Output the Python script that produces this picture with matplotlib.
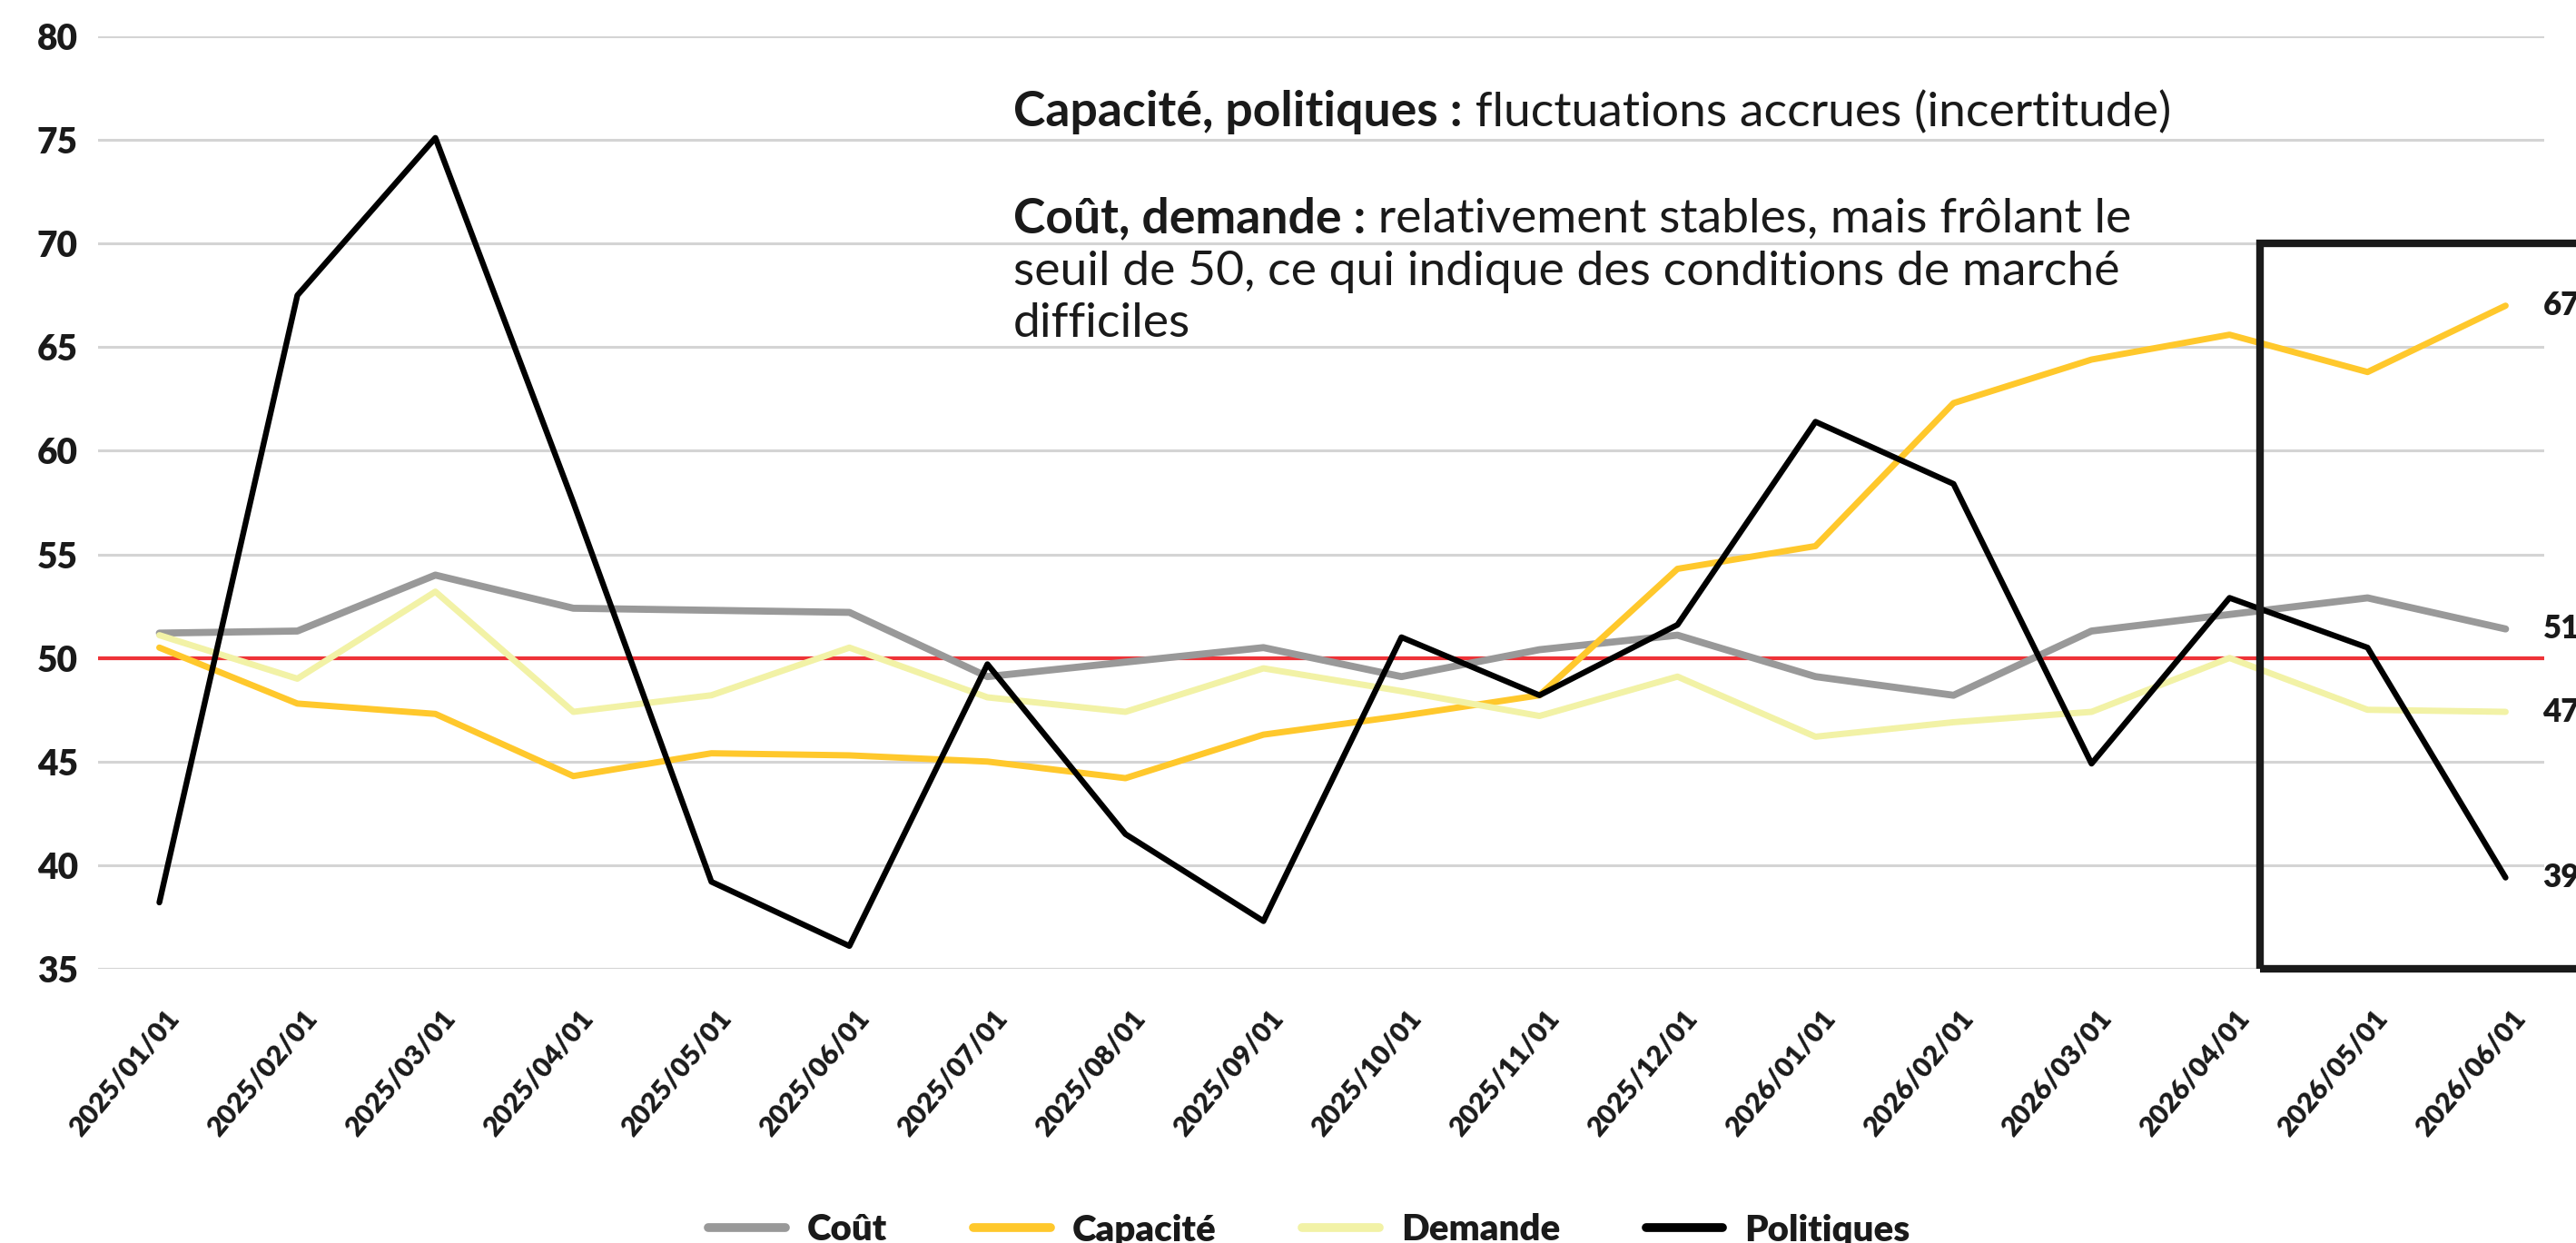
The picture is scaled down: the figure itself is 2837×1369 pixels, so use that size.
import matplotlib
matplotlib.use("Agg")
import matplotlib.pyplot as plt
import matplotlib.transforms as mtransforms
from matplotlib.patches import Rectangle

plt.rcParams["font.family"] = ["Lato", "DejaVu Sans"]

dates = ["2025/01/01", "2025/02/01", "2025/03/01", "2025/04/01", "2025/05/01", "2025/06/01",
         "2025/07/01", "2025/08/01", "2025/09/01", "2025/10/01", "2025/11/01", "2025/12/01",
         "2026/01/01", "2026/02/01", "2026/03/01", "2026/04/01", "2026/05/01", "2026/06/01"]
cout = [51.2, 51.3, 54.0, 52.4, 52.3, 52.2, 49.1, 49.8, 50.5, 49.1, 50.4, 51.1,
        49.1, 48.2, 51.3, 52.1, 52.9, 51.4]
capacite = [50.5, 47.8, 47.3, 44.3, 45.4, 45.3, 45.0, 44.2, 46.3, 47.2, 48.2, 54.3,
            55.4, 62.3, 64.4, 65.6, 63.8, 67.0]
demande = [51.1, 49.0, 53.2, 47.4, 48.2, 50.5, 48.1, 47.4, 49.5, 48.4, 47.2, 49.1,
           46.2, 46.9, 47.4, 50.0, 47.5, 47.4]
politiques = [38.2, 67.5, 75.1, 57.5, 39.2, 36.1, 49.7, 41.5, 37.3, 51.0, 48.2, 51.6,
              61.4, 58.4, 44.9, 52.9, 50.5, 39.4]
series = [("Coût", cout, "#999999", 5.6), ("Capacité", capacite, "#FFC82C", 5.0),
          ("Demande", demande, "#F2F2A6", 5.0), ("Politiques", politiques, "#000000", 4.6)]
yticks = [35, 40, 45, 50, 55, 60, 65, 70, 75, 80]
seuil = 50
box_start = 15.22   # encadré sur les deux derniers mois

W, H = 2837, 1369
fig = plt.figure(figsize=(W / 100, H / 100), dpi=100)
ax = fig.add_axes([108 / W, 1 - 1067 / H, (2802 - 108) / W, (1067 - 40) / H])

x = list(range(len(dates)))
for y in yticks:
    ax.axhline(y, color="#D4D4D4", lw=2.2, zorder=0)
ax.axhline(seuil, color="#EE3338", lw=3.0, zorder=1)
for name, vals, col, lw in series:
    ax.plot(x, vals, color=col, lw=lw, label=name, solid_capstyle="round", zorder=3)

ax.set_ylim(35, 80)
ax.set_xlim(-0.444, 17.28)
ax.set_yticks(yticks)
ax.set_yticklabels([str(v) for v in yticks], fontsize=28, fontweight="heavy", color="#1a1a1a")
ax.set_xticks(x)
ax.set_xticklabels(dates, rotation=50, ha="right", va="center", rotation_mode="anchor",
                   fontsize=22, fontweight="heavy", color="#1a1a1a")
ax.tick_params(axis="y", length=0, pad=16)
ax.tick_params(axis="x", length=0, pad=36)
offset = mtransforms.ScaledTranslation(12 / 72, 0, fig.dpi_scale_trans)
for lbl in ax.get_xticklabels():
    lbl.set_transform(lbl.get_transform() + offset)
for sp in ax.spines.values():
    sp.set_visible(False)

# encadré + valeurs finales
ax.add_patch(Rectangle((box_start, 35), 3, 35, fill=False, edgecolor="#1a1a1a", lw=6,
                       clip_on=False, zorder=4))
for name, vals, col, lw in series:
    ax.text(17.27, vals[-1], f"{vals[-1]:.0f}", fontsize=25, fontweight="heavy",
            color="#1a1a1a", va="center", ha="left", clip_on=False)

# annotations
tx = 1116 / W
fs = 38.5
t1 = fig.text(tx, 1 - 139 / H, "Capacité, politiques :", fontsize=fs, fontweight="bold",
              color="#1a1a1a", va="baseline")
ax.annotate(" fluctuations accrues (incertitude)", xy=(1, 0), xycoords=t1, va="bottom",
            fontsize=fs, color="#1a1a1a", annotation_clip=False)
t2 = fig.text(tx, 1 - 256 / H, "Coût, demande :", fontsize=fs, fontweight="bold",
              color="#1a1a1a", va="baseline")
ax.annotate(" relativement stables, mais frôlant le", xy=(1, 0), xycoords=t2, va="bottom",
            fontsize=fs, color="#1a1a1a", annotation_clip=False)
fig.text(tx, 1 - 314 / H, "seuil de 50, ce qui indique des conditions de marché",
         fontsize=fs, color="#1a1a1a", va="baseline")
fig.text(tx, 1 - 371 / H, "difficiles", fontsize=fs, color="#1a1a1a", va="baseline")

leg = fig.legend(loc="center", bbox_to_anchor=(797 / 1568, 1 - 1355 / H), ncol=4,
                 frameon=False, handlelength=2.1, handletextpad=0.6, columnspacing=2.35,
                 prop={"size": 29, "weight": "heavy"})
for line in leg.get_lines():
    line.set_linewidth(7)
for t in leg.get_texts():
    t.set_color("#1a1a1a")

fig.savefig("out.png", dpi=100)
